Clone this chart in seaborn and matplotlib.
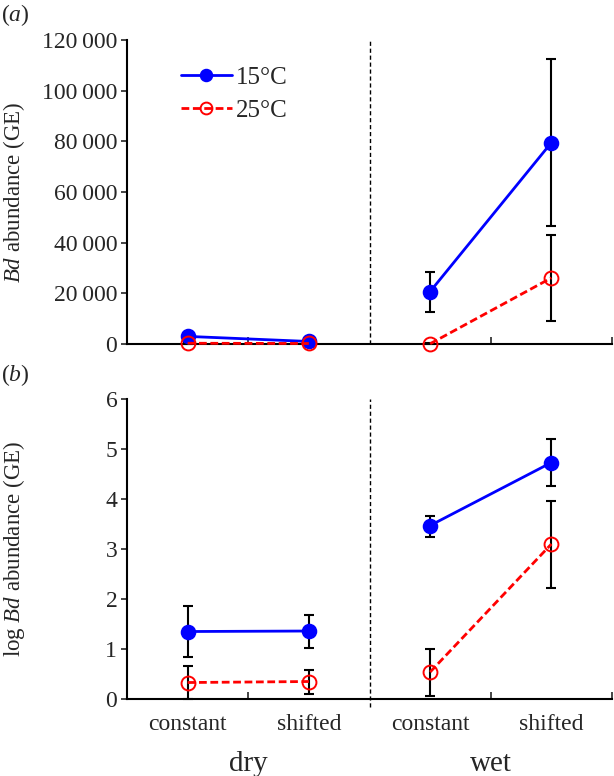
import numpy as np
import pandas as pd
import seaborn as sns
import matplotlib
matplotlib.use("Agg")
import matplotlib.pyplot as plt
from matplotlib.ticker import FuncFormatter, FixedLocator
from matplotlib.transforms import blended_transform_factory

# ---- data ----
treatments = ["constant", "shifted", "constant", "shifted"]
environments = ["dry", "dry", "wet", "wet"]
temps = ["15°C", "25°C"]

# panel (a): Bd abundance (GE)
ge_15 = [3000, 1000, 20700, 79500]
ge_15_lo = [2000, 500, 12800, 46400]
ge_15_hi = [3800, 1500, 28500, 112500]
ge_25 = [300, 200, 100, 26100]
ge_25_lo = [0, 0, 0, 8900]
ge_25_hi = [600, 400, 200, 42900]

# panel (b): log Bd abundance (GE)
log_15 = [1.35, 1.36, 3.47, 4.73]
log_15_lo = [0.85, 1.03, 3.25, 4.27]
log_15_hi = [1.87, 1.69, 3.67, 5.20]
log_25 = [0.33, 0.35, 0.54, 3.10]
log_25_lo = [0.0, 0.11, 0.07, 2.22]
log_25_hi = [0.67, 0.59, 1.01, 3.97]

group_labels = ["dry", "wet"]

sns.set_style("ticks")
plt.rcParams["font.family"] = ["Liberation Serif", "DejaVu Serif"]
plt.rcParams["mathtext.fontset"] = "custom"
plt.rcParams["mathtext.rm"] = "Liberation Serif"
plt.rcParams["mathtext.it"] = "Liberation Serif:italic"

FS = 17
colors = {"15°C": "#0000ff", "25°C": "#ff0000"}

fig = plt.figure(figsize=(6.14, 7.76), dpi=100)
ax1 = fig.add_axes([0.2068, 0.5567, 0.790, 0.3918])
ax2 = fig.add_axes([0.2068, 0.0992, 0.790, 0.3866])

xpos = np.arange(len(treatments))


def draw(ax, vals15, lo15, hi15, vals25, lo25, hi25, vmin):
    handles = []
    for temp, vals, lo, hi in [("15°C", vals15, lo15, hi15), ("25°C", vals25, lo25, hi25)]:
        df = pd.DataFrame({"x": xpos, "y": vals, "env": environments})
        vals = np.array(vals, float)
        ax.errorbar(xpos, vals, yerr=[vals - np.array(lo), np.array(hi) - vals],
                    fmt="none", ecolor="black", elinewidth=1.5, capsize=3.5,
                    capthick=1.5, zorder=1, clip_on=False)
        n_before = len(ax.lines)
        c = colors[temp]
        if temp == "15°C":
            sns.lineplot(data=df, x="x", y="y", units="env", estimator=None, ax=ax,
                         color=c, marker="o", markersize=10, mfc=c, mec=c, mew=1.2,
                         linewidth=2, linestyle="-", legend=False, zorder=3,
                         clip_on=False)
        else:
            sns.lineplot(data=df, x="x", y="y", units="env", estimator=None, ax=ax,
                         color=c, marker="o", markersize=10, mfc="none", mec=c, mew=1.4,
                         linewidth=2, linestyle=(0, (2.8, 1.3)), legend=False, zorder=3,
                         clip_on=False)
        handles.append(ax.lines[n_before])
    ax.set_xlim(-0.5, 3.5)
    ax.axvline(1.5, ymin=vmin, ymax=1.0, color="black", linestyle=(0, (3, 2)),
               linewidth=1, clip_on=False, zorder=0)
    ax.xaxis.set_major_locator(FixedLocator(xpos))
    ax.xaxis.set_minor_locator(FixedLocator([0.5, 2.5, 3.5]))
    ax.tick_params(axis="x", which="major", length=0, labelsize=FS, pad=11)
    ax.tick_params(axis="x", which="minor", direction="in", length=5, width=1.2)
    ax.tick_params(axis="y", which="major", direction="out", length=4, width=1.2,
                   labelsize=FS, pad=3)
    for s in ["top", "right"]:
        ax.spines[s].set_visible(False)
    for s in ["left", "bottom"]:
        ax.spines[s].set_linewidth(1.5)
        ax.spines[s].set_color("black")
    ax.set_xlabel("")
    return handles


h = draw(ax1, ge_15, ge_15_lo, ge_15_hi, ge_25, ge_25_lo, ge_25_hi, 0.0)
ax1.set_ylim(0, 120000)
ax1.set_yticks(np.arange(0, 120001, 20000))
ax1.yaxis.set_major_formatter(FuncFormatter(lambda v, p: f"{v:,.0f}".replace(",", "\u2009")))
ax1.set_xticklabels([])
ax1.set_ylabel(r"$\mathit{Bd}$ abundance (GE)", fontsize=FS - 0.5)
ax1.yaxis.set_label_coords(-0.207, 0.5)
ax1.legend(h, temps, loc="upper left", bbox_to_anchor=(0.09, 0.945), frameon=False,
           fontsize=FS + 1, handlelength=2.05, handletextpad=0.15, labelspacing=0.42,
           borderaxespad=0, markerscale=0.85)

draw(ax2, log_15, log_15_lo, log_15_hi, log_25, log_25_lo, log_25_hi, -0.027)
ax2.set_ylim(0, 6)
ax2.set_yticks(np.arange(0, 7, 1))
ax2.set_xticklabels(treatments)
ax2.set_ylabel(r"log $\mathit{Bd}$ abundance (GE)", fontsize=FS - 0.5)
ax2.yaxis.set_label_coords(-0.207, 0.5)

trans = blended_transform_factory(ax2.transData, ax2.transAxes)
for gx, g in zip([0.5, 2.5], group_labels):
    ax2.text(gx, -0.217, g, transform=trans, ha="center", va="center", fontsize=FS + 4)

fig.text(0.002, 0.981, r"($\mathit{a}$)", fontsize=FS, ha="left", va="center")
fig.text(0.002, 0.517, r"($\mathit{b}$)", fontsize=FS, ha="left", va="center")

fig.savefig("out.png", dpi=100)
